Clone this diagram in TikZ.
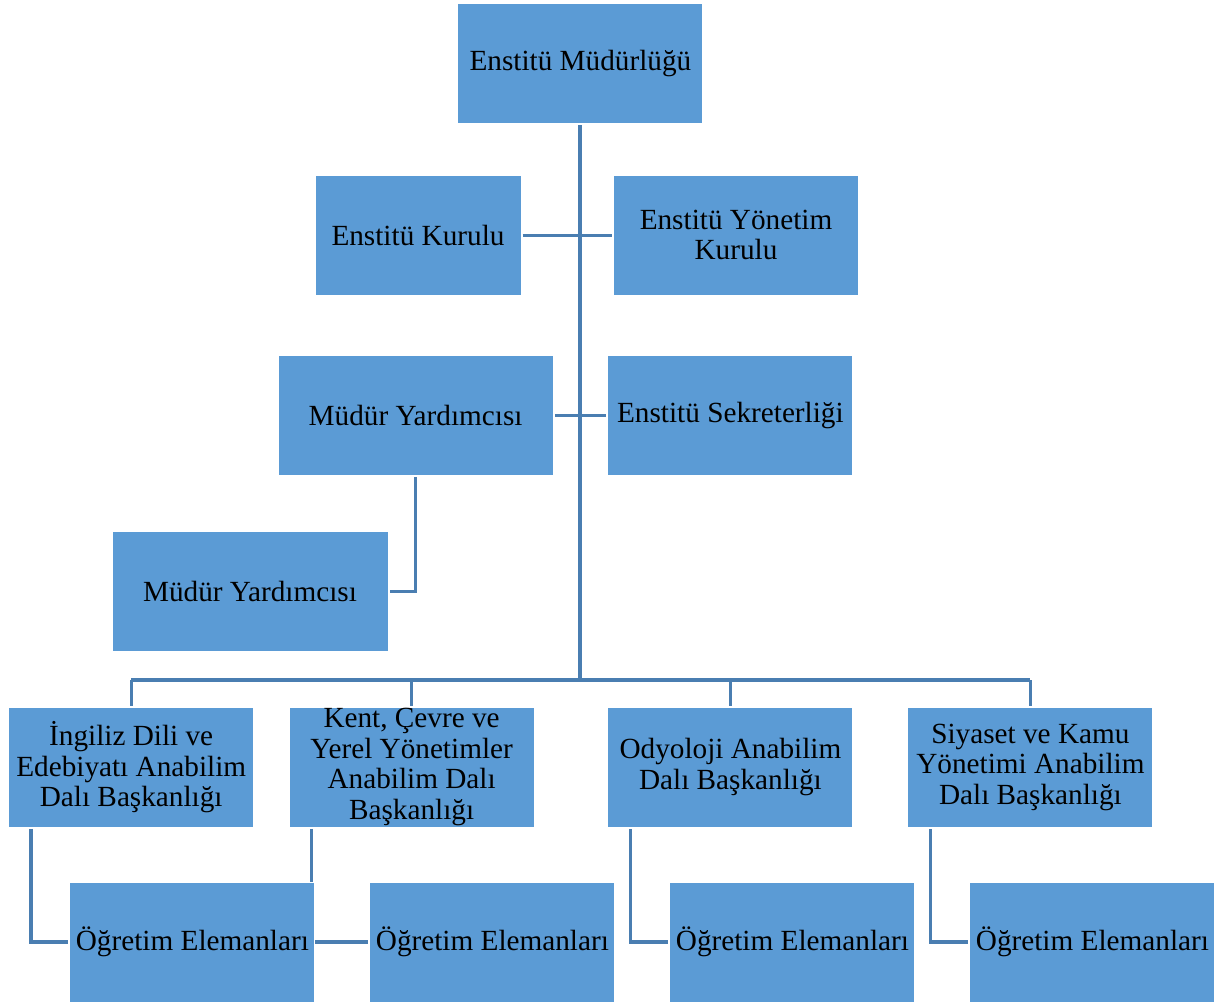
\documentclass[tikz,border=0pt]{standalone}
\usepackage{fontspec}
\setmainfont{Liberation Serif}
\usetikzlibrary{backgrounds}
\definecolor{boxblue}{HTML}{5B9BD5}
\definecolor{lineblue}{HTML}{4A7EB1}
\begin{document}
\begin{tikzpicture}[
  unitbox/.style={draw=white,line width=0.6pt,fill=boxblue,rectangle,
    minimum width=6.125cm,minimum height=3cm,inner sep=0pt,outer sep=0.04cm,
    align=center,font=\fontsize{20.8}{21.7}\selectfont},
  link/.style={draw=lineblue,line width=2.4pt}]
\useasboundingbox (0,0) rectangle (30.375,-25.05);

\node[unitbox] at (14.51,-1.59) (mudurluk) {Enstitü Müdürlüğü};
\node[unitbox,minimum width=5.15cm] at (10.45,-5.88) (kurul) {Enstitü Kurulu};
\node[unitbox] at (18.4,-5.88) (yonetim) {Enstitü Yönetim\\Kurulu};
\node[unitbox,minimum width=6.88cm] at (10.39,-10.38) (yard1) {Müdür Yardımcısı};
\node[unitbox] at (18.26,-10.38) (sekreter) {Enstitü Sekreterliği};
\node[unitbox,minimum width=6.9cm] at (6.25,-14.78) (yard2) {Müdür Yardımcısı};

\node[unitbox] at (3.28,-19.18) (ingiliz) {İngiliz Dili ve\\Edebiyatı Anabilim\\Dalı Başkanlığı};
\node[unitbox] at (10.29,-19.18) (kent) {Kent, Çevre ve\\Yerel Yönetimler\\Anabilim Dalı\\Başkanlığı};
\node[unitbox] at (18.26,-19.18) (odyoloji) {Odyoloji Anabilim\\Dalı Başkanlığı};
\node[unitbox] at (25.76,-19.18) (siyaset) {Siyaset ve Kamu\\Yönetimi Anabilim\\Dalı Başkanlığı};

\node[unitbox] at (4.81,-23.55) (og1) {Öğretim Elemanları};
\node[unitbox] at (12.31,-23.55) (og2) {Öğretim Elemanları};
\node[unitbox] at (19.81,-23.55) (og3) {Öğretim Elemanları};
\node[unitbox] at (27.31,-23.55) (og4) {Öğretim Elemanları};

\coordinate (bus) at (14.5,-17);

\begin{scope}[on background layer]
\draw[link] (mudurluk.south -| bus) -- (bus);
\draw[link] (kurul.east) -- (yonetim.west);
\draw[link] (yard1.east) -- (sekreter.west);
\draw[link] (yard1.south) |- (yard2.east);

\draw[link] (ingiliz.north |- bus) -- (siyaset.north |- bus);
\draw[link] (ingiliz.north |- bus) -- (ingiliz.north);
\draw[link] (kent.north |- bus) -- (kent.north);
\draw[link] (odyoloji.north |- bus) -- (odyoloji.north);
\draw[link] (siyaset.north |- bus) -- (siyaset.north);

\draw[link] ([xshift=0.6cm]ingiliz.south west) |- (og1.west);
\draw[link] ([xshift=0.6cm]kent.south west) |- (og2.west);
\draw[link] ([xshift=0.6cm]odyoloji.south west) |- (og3.west);
\draw[link] ([xshift=0.6cm]siyaset.south west) |- (og4.west);
\end{scope}

\end{tikzpicture}
\end{document}
